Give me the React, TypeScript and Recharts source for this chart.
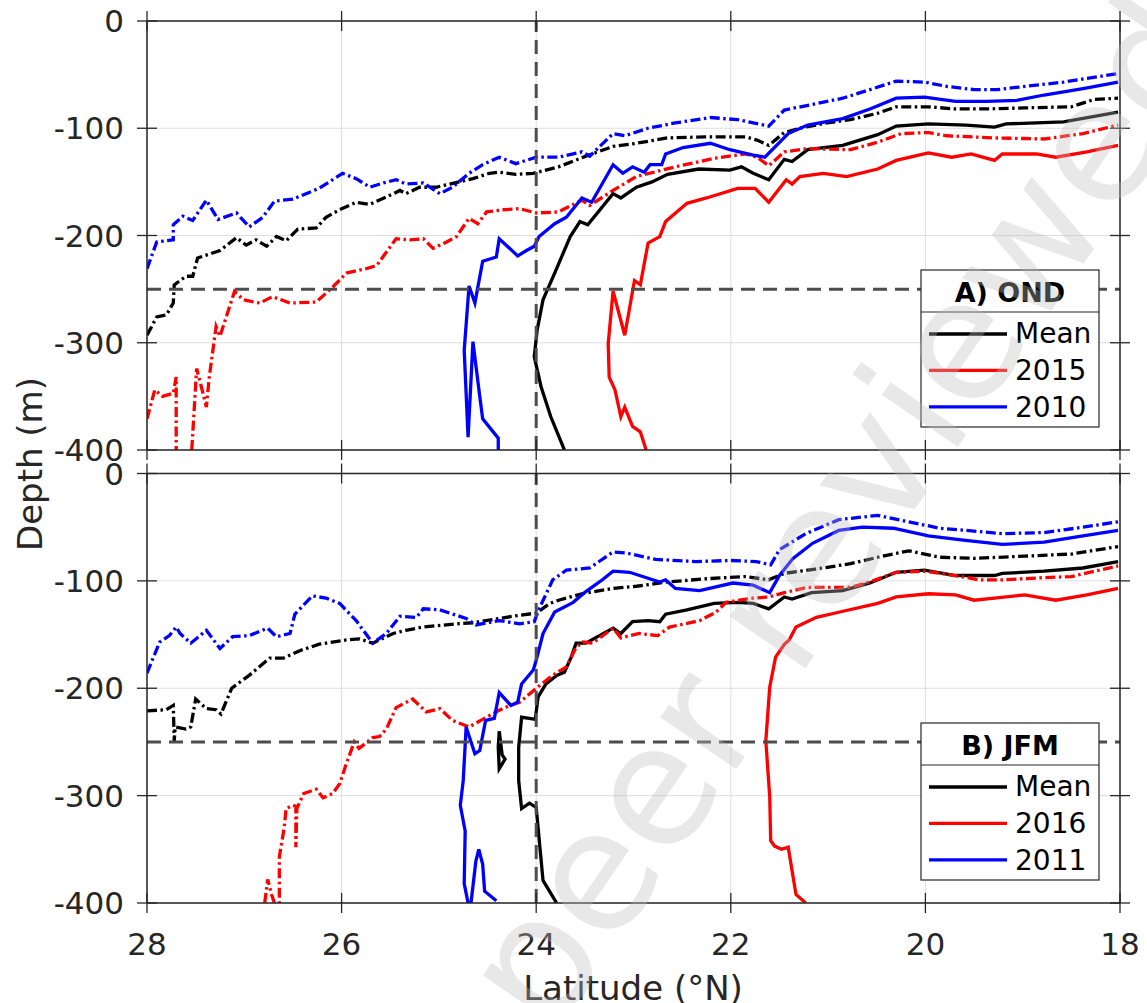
import { LineChart, Line, XAxis, YAxis, CartesianGrid, ReferenceLine } from 'recharts'

type Pt = [number, number] // [latitude °N, depth m]

const LAT_TICKS = [28, 26, 24, 22, 20, 18]
const DEPTH_TICKS = [-400, -300, -200, -100, 0]
const REF_LAT = 24
const REF_DEPTH = -250

// ---- A) OND ----
const ondMean: Pt[] = [
  [23.71, -400], [23.85, -369], [23.95, -341], [24.02, -313], [23.99, -288], [23.93, -260], [23.81, -235],
  [23.65, -201], [23.55, -187], [23.47, -190], [23.21, -161], [23.13, -165], [22.97, -155], [22.81, -150],
  [22.65, -143], [22.33, -138], [22.01, -139], [21.89, -136], [21.77, -142], [21.61, -148], [21.45, -129],
  [21.37, -131], [21.21, -120], [20.85, -116], [20.49, -106], [20.3, -98], [19.97, -96], [19.58, -97],
  [19.29, -99], [19.17, -96], [18.58, -94], [18.02, -85],
]
const ondMeanDash: Pt[] = [
  [28, -293], [27.9, -276], [27.8, -274], [27.73, -263], [27.72, -246], [27.6, -238], [27.53, -238],
  [27.48, -221], [27.25, -214], [27.08, -202], [26.98, -209], [26.88, -204], [26.77, -210], [26.67, -201],
  [26.57, -205], [26.45, -194], [26.26, -193], [26.16, -183], [26.02, -176], [25.85, -169], [25.71, -171],
  [25.54, -164], [25.4, -158], [25.34, -161], [25.2, -155], [25.03, -155], [24.79, -150], [24.65, -147],
  [24.48, -142], [24.38, -141], [24.21, -143], [24.03, -142], [23.77, -136], [23.49, -126], [23.21, -117],
  [22.97, -114], [22.65, -109], [22.25, -108], [21.85, -108], [21.73, -111], [21.61, -116], [21.45, -104],
  [21.29, -100], [21.01, -95], [20.77, -92], [20.49, -86], [20.3, -80], [19.97, -80], [19.69, -82],
  [19.37, -82], [18.98, -81], [18.5, -80], [18.26, -73], [18.02, -72],
]
const ond2015: Pt[] = [
  [22.87, -400], [22.93, -383], [23.01, -378], [23.09, -360], [23.13, -369], [23.19, -344], [23.25, -332],
  [23.26, -301], [23.21, -252], [23.09, -293], [22.99, -242], [22.93, -246], [22.85, -207], [22.73, -201],
  [22.67, -187], [22.45, -170], [22.25, -165], [21.93, -156], [21.75, -156], [21.61, -169], [21.43, -148],
  [21.37, -152], [21.29, -145], [21.05, -142], [20.81, -145], [20.49, -138], [20.3, -130], [19.97, -123],
  [19.73, -127], [19.53, -124], [19.29, -130], [19.21, -124], [18.86, -124], [18.66, -127], [18.34, -122],
  [18.02, -116],
]
const ond2015DashWest: Pt[] = [
  [28, -371], [27.92, -344], [27.84, -350], [27.73, -347], [27.7, -332], [27.7, -400],
]
const ond2015Dash: Pt[] = [
  [27.54, -400], [27.49, -324], [27.43, -345], [27.39, -360], [27.36, -332], [27.29, -285], [27.25, -294],
  [27.1, -252], [27.01, -260], [26.84, -263], [26.71, -257], [26.53, -263], [26.26, -262], [26.09, -248],
  [25.95, -235], [25.75, -231], [25.64, -228], [25.44, -203], [25.3, -204], [25.16, -203], [25.06, -212],
  [24.92, -206], [24.82, -201], [24.69, -184], [24.6, -189], [24.51, -178], [24.34, -176], [24.17, -175],
  [24.0, -179], [23.77, -178], [23.53, -167], [23.45, -172], [23.21, -158], [22.97, -145], [22.57, -136],
  [22.17, -128], [21.85, -124], [21.73, -127], [21.61, -135], [21.45, -122], [21.21, -119], [20.77, -120],
  [20.49, -113], [20.25, -105], [19.97, -104], [19.78, -107], [19.29, -109], [18.78, -110], [18.38, -105],
  [18.02, -97],
]
const ond2010: Pt[] = [
  [24.39, -400], [24.39, -389], [24.55, -371], [24.58, -350], [24.65, -299], [24.7, -388], [24.74, -307],
  [24.69, -247], [24.63, -263], [24.55, -224], [24.41, -220], [24.38, -203], [24.19, -219], [24.1, -214],
  [24.02, -210], [23.97, -201], [23.81, -189], [23.69, -183], [23.53, -165], [23.43, -169], [23.21, -134],
  [23.11, -142], [23.01, -136], [22.89, -141], [22.83, -134], [22.71, -134], [22.67, -124], [22.49, -118],
  [22.21, -114], [22.01, -120], [21.77, -125], [21.65, -127], [21.41, -105], [21.21, -97], [20.85, -91],
  [20.57, -82], [20.3, -72], [20.01, -71], [19.69, -75], [19.37, -75], [19.06, -74], [18.78, -69],
  [18.38, -63], [18.02, -57],
]
const ond2010Dash: Pt[] = [
  [28, -231], [27.9, -206], [27.73, -204], [27.73, -190], [27.63, -182], [27.53, -186], [27.39, -167],
  [27.27, -185], [27.08, -179], [26.95, -192], [26.81, -183], [26.69, -168], [26.5, -166], [26.23, -156],
  [25.99, -142], [25.85, -147], [25.71, -155], [25.57, -151], [25.44, -148], [25.34, -152], [25.16, -151],
  [24.99, -161], [24.86, -155], [24.69, -142], [24.55, -134], [24.38, -127], [24.21, -133], [24.0, -127],
  [23.77, -127], [23.53, -122], [23.45, -126], [23.21, -105], [23.09, -107], [22.85, -100], [22.57, -95],
  [22.21, -90], [21.93, -92], [21.61, -98], [21.45, -83], [21.17, -78], [20.85, -72], [20.57, -64],
  [20.3, -56], [20.01, -57], [19.78, -61], [19.5, -64], [19.26, -64], [18.98, -61], [18.58, -57],
  [18.02, -49],
]

// ---- B) JFM ----
const jfmMean: Pt[] = [
  [23.79, -400], [23.93, -379], [24.0, -311], [24.07, -307], [24.15, -312], [24.18, -286], [24.18, -255],
  [24.15, -227], [24.07, -228], [24.01, -229], [23.98, -208], [23.9, -196], [23.79, -188], [23.71, -185],
  [23.64, -171], [23.59, -158], [23.49, -158], [23.21, -144], [23.13, -149], [23.01, -138], [22.85, -137],
  [22.73, -138], [22.67, -131], [22.45, -127], [22.17, -121], [21.93, -120], [21.77, -121], [21.61, -126],
  [21.45, -115], [21.37, -117], [21.17, -111], [20.85, -109], [20.57, -102], [20.3, -92], [20.01, -90],
  [19.69, -95], [19.29, -95], [19.21, -93], [18.78, -91], [18.38, -88], [18.02, -82],
]
const jfmMeanIsland: Pt[] = [
  [24.38, -240], [24.35, -262], [24.32, -266], [24.38, -275], [24.39, -255], [24.38, -240],
]
const jfmMeanDash: Pt[] = [
  [28, -221], [27.8, -220], [27.73, -216], [27.72, -249], [27.71, -236], [27.6, -238], [27.55, -236],
  [27.5, -210], [27.39, -219], [27.29, -220], [27.24, -224], [27.13, -200], [26.95, -188], [26.74, -172],
  [26.6, -172], [26.43, -165], [26.23, -159], [25.95, -155], [25.82, -154], [25.68, -158], [25.47, -149],
  [25.34, -146], [25.16, -143], [24.82, -140], [24.65, -139], [24.38, -135], [24.17, -132], [24.0, -130],
  [23.86, -121], [23.77, -118], [23.53, -112], [23.21, -107], [22.97, -105], [22.65, -101], [22.25, -98],
  [21.85, -96], [21.61, -99], [21.45, -93], [21.13, -89], [20.77, -84], [20.49, -78], [20.17, -72],
  [19.85, -78], [19.5, -79], [18.98, -77], [18.5, -75], [18.02, -68],
]
const jfm2016: Pt[] = [
  [21.23, -400], [21.33, -392], [21.41, -348], [21.48, -350], [21.55, -347], [21.59, -342], [21.6, -301],
  [21.64, -249], [21.6, -199], [21.54, -171], [21.45, -159], [21.4, -155], [21.33, -143], [21.12, -134],
  [20.88, -129], [20.49, -121], [20.3, -115], [19.97, -112], [19.69, -113], [19.5, -118], [19.29, -116],
  [18.98, -113], [18.66, -118], [18.34, -113], [18.02, -107],
]
const jfm2016Dash: Pt[] = [
  [26.79, -400], [26.76, -378], [26.72, -392], [26.69, -400], [26.64, -400], [26.64, -357], [26.59, -330],
  [26.57, -312], [26.5, -309], [26.47, -310], [26.47, -348], [26.46, -312], [26.39, -298], [26.26, -294],
  [26.19, -302], [26.09, -298], [26.02, -289], [25.95, -270], [25.87, -250], [25.82, -256], [25.68, -246],
  [25.61, -245], [25.54, -238], [25.44, -218], [25.27, -210], [25.13, -222], [24.99, -219], [24.86, -230],
  [24.69, -236], [24.55, -229], [24.39, -221], [24.27, -216], [24.17, -213], [24.0, -200], [23.83, -188],
  [23.69, -180], [23.59, -162], [23.52, -157], [23.42, -158], [23.21, -144], [23.13, -153], [22.94, -149],
  [22.75, -151], [22.63, -143], [22.32, -137], [22.15, -129], [22.05, -120], [21.77, -116], [21.61, -115],
  [21.45, -111], [21.21, -106], [20.77, -106], [20.57, -101], [20.3, -92], [20.01, -91], [19.69, -95],
  [19.45, -99], [19.21, -99], [18.78, -97], [18.5, -96], [18.02, -86],
]
const jfm2011: Pt[] = [
  [24.41, -398], [24.53, -389], [24.55, -364], [24.59, -350], [24.62, -361], [24.67, -400], [24.7, -400],
  [24.74, -382], [24.73, -333], [24.78, -309], [24.75, -286], [24.72, -236], [24.63, -261], [24.58, -258],
  [24.52, -230], [24.43, -228], [24.38, -204], [24.26, -216], [24.19, -213], [24.15, -196], [24.03, -183],
  [24.0, -174], [23.93, -149], [23.81, -129], [23.62, -120], [23.49, -110], [23.32, -99], [23.21, -91],
  [23.04, -92], [22.73, -101], [22.67, -99], [22.57, -107], [22.32, -109], [21.98, -102], [21.77, -104],
  [21.6, -111], [21.5, -95], [21.36, -79], [21.16, -65], [20.89, -53], [20.65, -50], [20.33, -51],
  [19.97, -58], [19.61, -62], [19.21, -66], [18.78, -64], [18.38, -58], [18.02, -53],
]
const jfm2011Dash: Pt[] = [
  [28, -186], [27.87, -157], [27.77, -151], [27.7, -143], [27.66, -149], [27.55, -158], [27.39, -146],
  [27.25, -163], [27.12, -152], [26.95, -151], [26.76, -144], [26.67, -152], [26.53, -149], [26.48, -131],
  [26.3, -114], [26.16, -116], [26.02, -121], [25.85, -137], [25.68, -158], [25.54, -149], [25.4, -133],
  [25.23, -134], [25.16, -126], [24.99, -127], [24.72, -135], [24.62, -141], [24.38, -137], [24.17, -140],
  [24.02, -138], [23.97, -126], [23.83, -99], [23.69, -90], [23.45, -88], [23.21, -73], [23.08, -74],
  [22.77, -80], [22.36, -82], [22.01, -81], [21.74, -82], [21.59, -85], [21.5, -71], [21.23, -56],
  [20.89, -43], [20.49, -39], [20.17, -45], [19.85, -51], [19.45, -54], [19.21, -56], [18.78, -55],
  [18.38, -50], [18.02, -45],
]

const LEGEND_A = ['Mean', '2015', '2010']
const LEGEND_B = ['Mean', '2016', '2011']

const INK = '#262626'
const BLACK = '#000000'
const RED = '#ff0000'
const BLUE = '#0000ff'
const SERIES_COLORS = [BLACK, RED, BLUE]
const FONT = '"DejaVu Sans", Verdana, sans-serif'

type Series = { id: string; pts: Pt[]; color: string; dash?: boolean }

const seriesA: Series[] = [
  { id: 'mean', pts: ondMean, color: BLACK },
  { id: 'meanDash', pts: ondMeanDash, color: BLACK, dash: true },
  { id: 'y1', pts: ond2015, color: RED },
  { id: 'y1DashW', pts: ond2015DashWest, color: RED, dash: true },
  { id: 'y1Dash', pts: ond2015Dash, color: RED, dash: true },
  { id: 'y2', pts: ond2010, color: BLUE },
  { id: 'y2Dash', pts: ond2010Dash, color: BLUE, dash: true },
]
const seriesB: Series[] = [
  { id: 'mean', pts: jfmMean, color: BLACK },
  { id: 'meanIsland', pts: jfmMeanIsland, color: BLACK },
  { id: 'meanDash', pts: jfmMeanDash, color: BLACK, dash: true },
  { id: 'y1', pts: jfm2016, color: RED },
  { id: 'y1Dash', pts: jfm2016Dash, color: RED, dash: true },
  { id: 'y2', pts: jfm2011, color: BLUE },
  { id: 'y2Dash', pts: jfm2011Dash, color: BLUE, dash: true },
]

const toRows = (pts: Pt[]) => pts.map(([lat, depth]) => ({ lat, depth }))

// ticks drawn in both directions, MATLAB style
function XTick({ x, y, payload, label }: any) {
  return (
    <g>
      <line x1={x} x2={x} y1={y - 10} y2={y + 10} stroke={INK} strokeWidth={1.3} />
      {label && (
        <text x={x} y={y + 52} textAnchor="middle" fontSize={31} fill={INK} fontFamily={FONT}>
          {payload.value}
        </text>
      )}
    </g>
  )
}

function YTick({ x, y, payload, label }: any) {
  return (
    <g>
      <line x1={x - 10} x2={x + 10} y1={y} y2={y} stroke={INK} strokeWidth={1.3} />
      {label && (
        <text x={x - 23} y={y + 11} textAnchor="end" fontSize={31} fill={INK} fontFamily={FONT}>
          {payload.value}
        </text>
      )}
    </g>
  )
}

function Panel({ series, height, bottomH, top, xLabels }: { series: Series[]; height: number; bottomH: number; top: number; xLabels: boolean }) {
  const axisLine = { stroke: INK, strokeWidth: 1.5 }
  return (
    <LineChart width={1147} height={height} margin={{ top, right: 26, bottom: 0, left: 47 }}>
      <CartesianGrid stroke="#dedede" strokeWidth={1} />
      <XAxis dataKey="lat" type="number" domain={[18, 28]} reversed allowDataOverflow ticks={LAT_TICKS} interval={0}
        height={bottomH} tickSize={0} tickMargin={0} tickLine={false} axisLine={axisLine}
        tick={(p: any) => <XTick {...p} label={xLabels} />} />
      <XAxis xAxisId="top" orientation="top" dataKey="lat" type="number" domain={[18, 28]} reversed allowDataOverflow
        ticks={LAT_TICKS} interval={0} height={1} tickSize={0} tickMargin={0} tickLine={false} axisLine={axisLine}
        tick={(p: any) => <XTick {...p} label={false} />} />
      <YAxis type="number" domain={[-400, 0]} allowDataOverflow ticks={DEPTH_TICKS} interval={0} width={100}
        tickSize={0} tickMargin={0} tickLine={false} axisLine={axisLine}
        tick={(p: any) => <YTick {...p} label />} />
      <YAxis yAxisId="right" orientation="right" type="number" domain={[-400, 0]} allowDataOverflow ticks={DEPTH_TICKS}
        interval={0} width={1} tickSize={0} tickMargin={0} tickLine={false} axisLine={axisLine}
        tick={(p: any) => <YTick {...p} label={false} />} />
      {series.map(s => (
        <Line key={s.id} name={s.id} data={toRows(s.pts)} dataKey="depth" type="linear" stroke={s.color}
          strokeWidth={3.3} strokeDasharray={s.dash ? '10 3.5 2.5 3.5' : undefined} dot={false} activeDot={false}
          isAnimationActive={false} />
      ))}
      <ReferenceLine y={REF_DEPTH} stroke="#4d4d4d" strokeWidth={3} strokeDasharray="14 8" />
      <ReferenceLine x={REF_LAT} stroke="#4d4d4d" strokeWidth={3} strokeDasharray="14 8" />
    </LineChart>
  )
}

function LegendBox({ top, title, labels }: { top: number; title: string; labels: string[] }) {
  const left = 921
  const w = 178
  return (
    <g fontFamily={FONT}>
      <rect x={left} y={top} width={w} height={157} fill="#fff" stroke={INK} strokeWidth={1.2} />
      <line x1={left} x2={left + w} y1={top + 42} y2={top + 42} stroke={INK} strokeWidth={1.2} />
      <text x={left + w / 2} y={top + 32} textAnchor="middle" fontSize={27} fontWeight="bold" fill="#000">{title}</text>
      {labels.map((lab, i) => (
        <g key={lab}>
          <line x1={929} x2={1007} y1={top + 64 + i * 36.4} y2={top + 64 + i * 36.4} stroke={SERIES_COLORS[i]} strokeWidth={3.3} />
          <text x={1015} y={top + 73 + i * 37} fontSize={28} fill="#000">{lab}</text>
        </g>
      ))}
    </g>
  )
}

export default function App() {
  return (
    <div style={{ position: 'absolute', left: 0, top: 0, width: 1147, height: 1003, background: '#fff', overflow: 'hidden' }}>
      <div style={{ position: 'absolute', left: 0, top: 0 }}>
        <Panel series={seriesA} height={470} bottomH={20} top={20} xLabels={false} />
      </div>
      <div style={{ position: 'absolute', left: 0, top: 452 }}>
        <Panel series={seriesB} height={551} bottomH={100} top={20.5} xLabels />
      </div>
      <svg width={1147} height={1003} style={{ position: 'absolute', left: 0, top: 0, pointerEvents: 'none' }}>
        <text transform="translate(42,464) rotate(-90)" textAnchor="middle" fontSize={34} fill={INK} fontFamily={FONT}>Depth (m)</text>
        <text x={633} y={1000} textAnchor="middle" fontSize={34} fill={INK} fontFamily={FONT}>Latitude (°N)</text>
        <LegendBox top={270} title="A) OND" labels={LEGEND_A} />
        <LegendBox top={723} title="B) JFM" labels={LEGEND_B} />
        <text x={550} y={1040} transform="rotate(-55.5 550 1040)" fontSize={168} fill="#bdbdbd" fillOpacity={0.35} fontFamily={FONT}>peer reviewed</text>
      </svg>
    </div>
  )
}
